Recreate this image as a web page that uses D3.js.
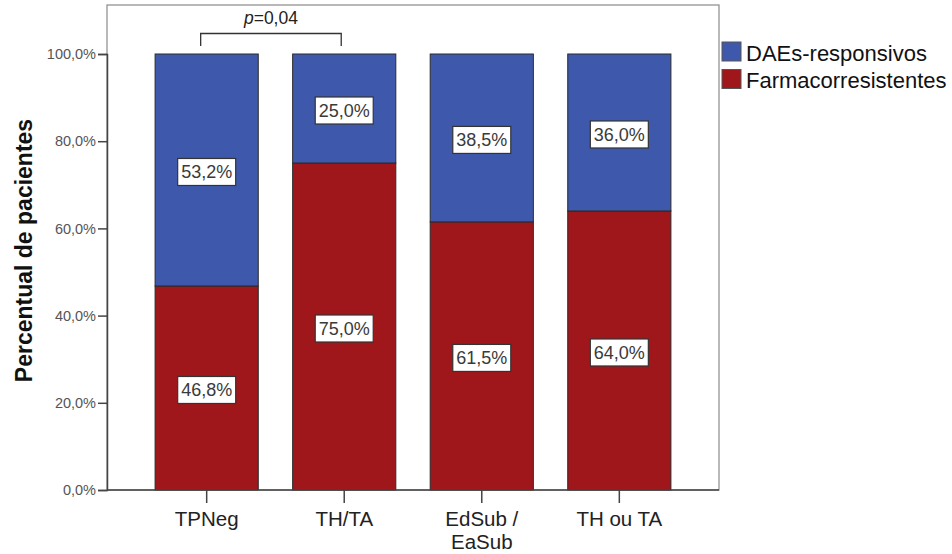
<!DOCTYPE html>
<html>
<head>
<meta charset="utf-8">
<script src="https://cdn.jsdelivr.net/npm/d3@7"></script>
<style>
  body { margin: 0; background: #fff; }
  svg { display: block; font-family: "Liberation Sans", Arial, sans-serif; }
</style>
</head>
<body>
<svg id="chart" width="952" height="554"></svg>
<script>
const categories = [["TPNeg"], ["TH/TA"], ["EdSub /", "EaSub"], ["TH ou TA"]];
const categoryKeys = ["TPNeg", "TH/TA", "EdSub / EaSub", "TH ou TA"];
const farmacorresistentes = [46.8, 75.0, 61.5, 64.0];
const daesResponsivos = [53.2, 25.0, 38.5, 36.0];
const seriesNames = ["DAEs-responsivos", "Farmacorresistentes"];
const yTicks = [0, 20, 40, 60, 80, 100];
const pAnnotation = "0,04";

const colors = { "DAEs-responsivos": "#3e58ab", "Farmacorresistentes": "#a0171b" };

const svg = d3.select("#chart");
const frame = { left: 107, right: 719, top: 5, bottom: 490 };

const y = d3.scaleLinear().domain([0, 100]).range([490, 54]);
const x = d3.scaleBand().domain(categoryKeys).range([137.9, 688.1])
  .paddingInner(0.25).paddingOuter(0.125);

// frame
svg.append("rect")
  .attr("x", frame.left).attr("y", frame.top)
  .attr("width", frame.right - frame.left).attr("height", frame.bottom - frame.top)
  .attr("fill", "none").attr("stroke", "#8a8a8a").attr("stroke-width", 1.2);

// data rows
const rows = categoryKeys.map((k, i) => ({
  key: k,
  Farmacorresistentes: farmacorresistentes[i],
  "DAEs-responsivos": daesResponsivos[i]
}));
const stack = d3.stack().keys(["Farmacorresistentes", "DAEs-responsivos"]);
const stacked = stack(rows);

const layers = svg.append("g").selectAll("g").data(stacked).join("g")
  .attr("fill", d => colors[d.key]);
layers.selectAll("rect").data(d => d).join("rect")
  .attr("x", d => x(d.data.key))
  .attr("y", d => y(d[1]))
  .attr("width", x.bandwidth())
  .attr("height", d => y(d[0]) - y(d[1]))
  .attr("stroke", "#2a2a2a").attr("stroke-width", 1);

// value labels
const labelG = svg.append("g");
stacked.forEach(layer => {
  layer.forEach(d => {
    const v = d[1] - d[0];
    const cx = x(d.data.key) + x.bandwidth() / 2;
    const cy = (y(d[0]) + y(d[1])) / 2 + 2;
    const g = labelG.append("g").attr("transform", `translate(${cx},${cy})`);
    g.append("rect").attr("x", -29).attr("y", -13.5).attr("width", 58).attr("height", 27)
      .attr("fill", "#fff").attr("stroke", "#333").attr("stroke-width", 1.2);
    g.append("text").attr("text-anchor", "middle").attr("dy", "0.36em")
      .attr("font-size", 18).attr("fill", "#3a3a3a")
      .text(v.toFixed(1).replace(".", ",") + "%");
  });
});

// y axis
const yAxis = d3.axisLeft(y).tickValues(yTicks).tickSize(9).tickPadding(2)
  .tickFormat(d => d.toFixed(1).replace(".", ",") + "%");
const gy = svg.append("g").attr("transform", `translate(${frame.left},0)`).call(yAxis);
gy.select(".domain").attr("stroke", "#444").attr("stroke-width", 1.5);
gy.selectAll(".tick line").attr("stroke", "#444").attr("stroke-width", 1.5);
gy.selectAll(".tick text").attr("font-size", 14.5).attr("fill", "#555")
  .attr("font-family", "'Liberation Sans', Arial, sans-serif");

// x axis
const xAxis = d3.axisBottom(x).tickSize(13).tickPadding(4).tickFormat(() => "");
const gx = svg.append("g").attr("transform", `translate(0,${frame.bottom})`).call(xAxis);
gx.select(".domain").attr("d", `M${frame.left},0H${frame.right}`).attr("stroke", "#444").attr("stroke-width", 1.5);
gx.selectAll(".tick line").attr("stroke", "#444").attr("stroke-width", 1.5);
gx.selectAll(".tick").each(function(d, i) {
  const t = d3.select(this).append("text").attr("text-anchor", "middle")
    .attr("font-size", 20.5).attr("fill", "#222");
  categories[i].forEach((line, j) => {
    t.append("tspan").attr("x", 0).attr("y", 36 + j * 23).text(line);
  });
});

// y title
svg.append("text")
  .attr("transform", "translate(32,250.5) rotate(-90)")
  .attr("text-anchor", "middle").attr("font-size", 23).attr("font-weight", "bold")
  .attr("fill", "#111").text("Percentual de pacientes");

// significance bracket
const bx1 = x(categoryKeys[0]) + x.bandwidth() / 2 - 6;
const bx2 = x(categoryKeys[1]) + x.bandwidth() / 2 - 3;
svg.append("path")
  .attr("d", `M${bx1},46V33.5H${bx2}V46`)
  .attr("fill", "none").attr("stroke", "#333").attr("stroke-width", 1.3);
const pt = svg.append("text").attr("x", (bx1 + bx2) / 2).attr("y", 24)
  .attr("text-anchor", "middle").attr("font-size", 17.5).attr("fill", "#222");
pt.append("tspan").attr("font-style", "italic").text("p");
pt.append("tspan").text("=" + pAnnotation);

// legend
const legend = svg.append("g").attr("transform", "translate(722,42)");
seriesNames.forEach((name, i) => {
  const g = legend.append("g").attr("transform", `translate(0,${i * 27.5})`);
  g.append("rect").attr("width", 19).attr("height", 19)
    .attr("fill", colors[name]).attr("stroke", "#555").attr("stroke-width", 1);
  g.append("text").attr("x", 24).attr("y", 18.5)
    .attr("font-size", 22).attr("fill", "#111").text(name);
});
</script>
</body>
</html>
